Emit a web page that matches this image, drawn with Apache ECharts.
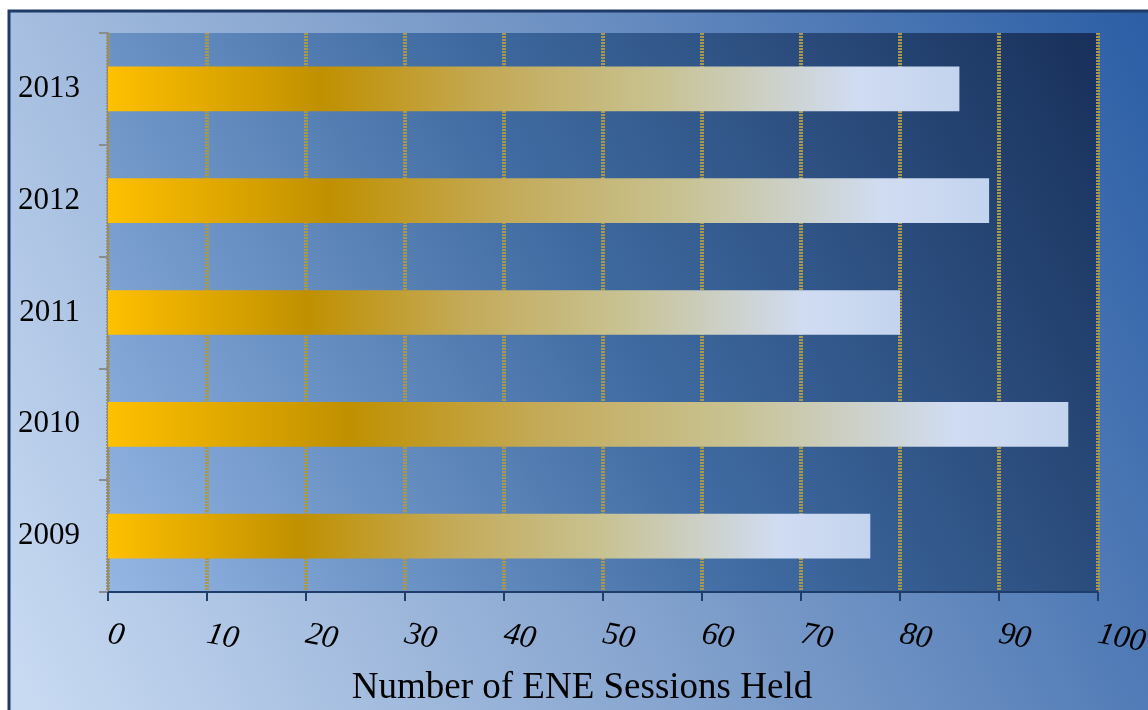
<!DOCTYPE html>
<html>
<head>
<meta charset="utf-8">
<script src="https://cdn.jsdelivr.net/npm/echarts@6/dist/echarts.min.js"></script>
<style>
  html, body { margin: 0; padding: 0; background: #fff; }
  #main { width: 1148px; height: 710px; }
</style>
</head>
<body>
<div id="main"></div>
<script>
var years = ['2009', '2010', '2011', '2012', '2013'];
var sessions = [77, 97, 80, 89, 86];
var xTicks = { min: 0, max: 100, interval: 10 };

var serif = '"Liberation Serif", "DejaVu Serif", serif';
var myChart = echarts.init(document.getElementById('main'));

var option = {
  backgroundColor: '#ffffff',
  animation: false,
  graphic: [{
    type: 'rect',
    z: -100,
    shape: { x: 9, y: 11, width: 1160, height: 720 },
    style: {
      fill: new echarts.graphic.LinearGradient(0, 0.9, 1, 0.1, [
        { offset: 0, color: '#c8daf2' },
        { offset: 0.5, color: '#7d9dca' },
        { offset: 1, color: '#2c5fa6' }
      ]),
      stroke: '#1f3a66',
      lineWidth: 3
    }
  }],
  grid: {
    left: 108,
    right: 50,
    top: 33,
    bottom: 118,
    outerBoundsMode: 'none',
    containLabel: false,
    show: true,
    borderWidth: 0,
    backgroundColor: new echarts.graphic.LinearGradient(0, 1, 1, 0, [
      { offset: 0, color: '#94b6e4' },
      { offset: 0.5, color: '#3f6ba2' },
      { offset: 1, color: '#18305a' }
    ])
  },
  xAxis: {
    type: 'value',
    min: xTicks.min,
    max: xTicks.max,
    interval: xTicks.interval,
    name: 'Number of ENE Sessions Held',
    nameLocation: 'middle',
    nameGap: 78,
    nameTextStyle: { fontFamily: serif, fontSize: 37, color: '#000', padding: [0, 42, 0, 0] },
    axisLine: { show: true, lineStyle: { color: '#1f3d6b', width: 2 } },
    axisTick: { show: true, length: 9, lineStyle: { color: '#1f3d6b', width: 2 } },
    axisLabel: {
      fontFamily: serif,
      fontStyle: 'italic',
      fontSize: 32,
      color: '#000',
      rotate: -11,
      align: 'left',
      verticalAlign: 'middle',
      margin: 42
    },
    splitLine: {
      show: true,
      lineStyle: { color: '#a89848', width: 4, type: [2, 1] }
    }
  },
  yAxis: {
    type: 'category',
    data: years,
    axisLine: { show: true, lineStyle: { color: '#8c8c8c', width: 2 } },
    axisTick: { show: true, length: 9, lineStyle: { color: '#8c8c8c', width: 2 } },
    axisLabel: {
      fontFamily: serif,
      fontSize: 31,
      color: '#000',
      margin: 28
    },
    splitLine: { show: false }
  },
  series: [{
    type: 'bar',
    data: sessions,
    barWidth: '40%',
    itemStyle: {
      color: new echarts.graphic.LinearGradient(0, 0, 1, 0, [
        { offset: 0, color: '#ffc000' },
        { offset: 0.25, color: '#c09000' },
        { offset: 0.45, color: '#c4aa58' },
        { offset: 0.65, color: '#c8c292' },
        { offset: 0.88, color: '#d0dcf2' },
        { offset: 1, color: '#c4d4ee' }
      ])
    }
  }]
};

myChart.setOption(option);
window.onresize = myChart.resize;
</script>
</body>
</html>
